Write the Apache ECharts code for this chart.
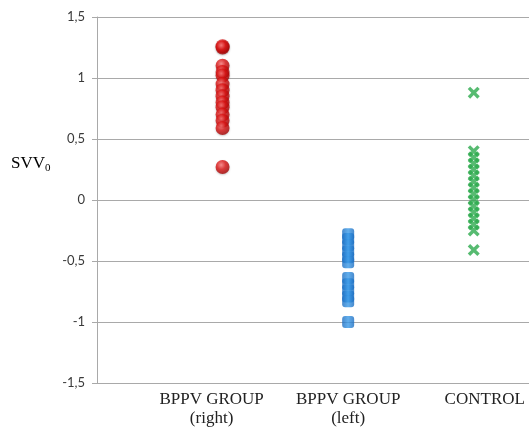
<!DOCTYPE html>
<html>
<head>
<meta charset="utf-8">
<script src="https://cdn.jsdelivr.net/npm/echarts@6/dist/echarts.min.js"></script>
<style>
  html, body { margin: 0; padding: 0; background: #fff; }
  #chart { width: 529px; height: 430px; }
</style>
</head>
<body>
<div id="chart"></div>
<script>
// categories and values
const categories = ['BPPV GROUP\n(right)', 'BPPV GROUP\n(left)', 'CONTROL']
const rightValues = [1.26, 1.25, 1.1, 1.05, 1.02, 0.95, 0.9, 0.85, 0.8, 0.76, 0.7, 0.65, 0.59, 0.27]
const leftValues = [-0.28, -0.32, -0.37, -0.42, -0.47, -0.51, -0.64, -0.69, -0.74, -0.79, -0.83, -1.0]
const controlValues = [0.88, 0.4, 0.35, 0.3, 0.25, 0.2, 0.15, 0.1, 0.05, 0, -0.05, -0.1, -0.15, -0.2, -0.25, -0.41]
const yTicks = [-1.5, -1, -0.5, 0, 0.5, 1, 1.5]

const chart = echarts.init(document.getElementById('chart'), null, { renderer: 'canvas' })

const pts = (pos, vals) => vals.map((v) => [pos, v])
const labelShift = [22, 0, -22]

const option = {
  animation: false,
  grid: { left: 97, right: 0, top: 17, bottom: 47 },
  xAxis: {
    type: 'value',
    min: 0,
    max: 3.44,
    interval: 1,
    axisLine: { show: true, lineStyle: { color: '#a9a9a9', width: 1 } },
    axisTick: { show: false },
    splitLine: { show: false },
    axisLabel: {
      margin: 7,
      showMaxLabel: false,
      formatter: (v) => {
        const i = Math.round(v) - 1
        if (i < 0 || i >= categories.length) return ''
        const style = 's' + i
        return categories[i].split('\n').map((t) => `{${style}|${t}}`).join('\n')
      },
      rich: Object.fromEntries(labelShift.map((s, i) => [
        's' + i,
        {
          fontFamily: 'Liberation Serif',
          fontSize: 17,
          lineHeight: 19,
          color: '#222',
          padding: s >= 0 ? [0, s, 0, 0] : [0, 0, 0, -s],
        },
      ])),
    },
  },
  yAxis: {
    type: 'value',
    min: yTicks[0],
    max: yTicks[yTicks.length - 1],
    interval: 0.5,
    axisLine: { show: true, lineStyle: { color: '#a9a9a9', width: 1 } },
    axisTick: { show: true, length: 5, lineStyle: { color: '#a9a9a9' } },
    splitLine: { show: true, lineStyle: { color: '#a9a9a9', width: 1 } },
    axisLabel: {
      margin: 12,
      fontFamily: 'Lato',
      fontSize: 13,
      color: '#3a3a3a',
      formatter: (v) => String(v).replace('.', ','),
    },
  },
  graphic: [
    {
      type: 'text',
      left: 11,
      top: 155,
      style: {
        text: '{a|SVV}{b|0}',
        rich: {
          a: { fontFamily: 'Liberation Serif', fontSize: 17, color: '#222' },
          b: { fontFamily: 'Liberation Serif', fontSize: 11, color: '#222', padding: [9, 0, 0, 0] },
        },
      },
    },
  ],
  series: [
    {
      type: 'scatter',
      data: pts(1, rightValues),
      symbol: 'circle',
      symbolSize: 14,
      itemStyle: {
        color: new echarts.graphic.RadialGradient(0.4, 0.35, 0.7, [
          { offset: 0, color: '#ff7a7a' },
          { offset: 0.45, color: '#dd1414' },
          { offset: 1, color: '#9a0000' },
        ]),
        shadowBlur: 2,
        shadowColor: 'rgba(0,0,0,0.25)',
        shadowOffsetY: 1,
      },
    },
    {
      type: 'scatter',
      data: pts(2, leftValues),
      symbol: 'roundRect',
      symbolSize: [12, 12],
      itemStyle: {
        color: new echarts.graphic.LinearGradient(0, 0, 1, 0, [
          { offset: 0, color: '#1a6cc0' },
          { offset: 0.5, color: '#3a9ae8' },
          { offset: 1, color: '#1a6cc0' },
        ]),
      },
    },
    {
      type: 'scatter',
      data: pts(3, controlValues),
      symbol: 'path://M2,0 L5,3 L8,0 L10,2 L7,5 L10,8 L8,10 L5,7 L2,10 L0,8 L3,5 L0,2 Z',
      symbolSize: 12,
      itemStyle: { color: '#2daa4e' },
    },
  ],
}

chart.setOption(option)
</script>
</body>
</html>
